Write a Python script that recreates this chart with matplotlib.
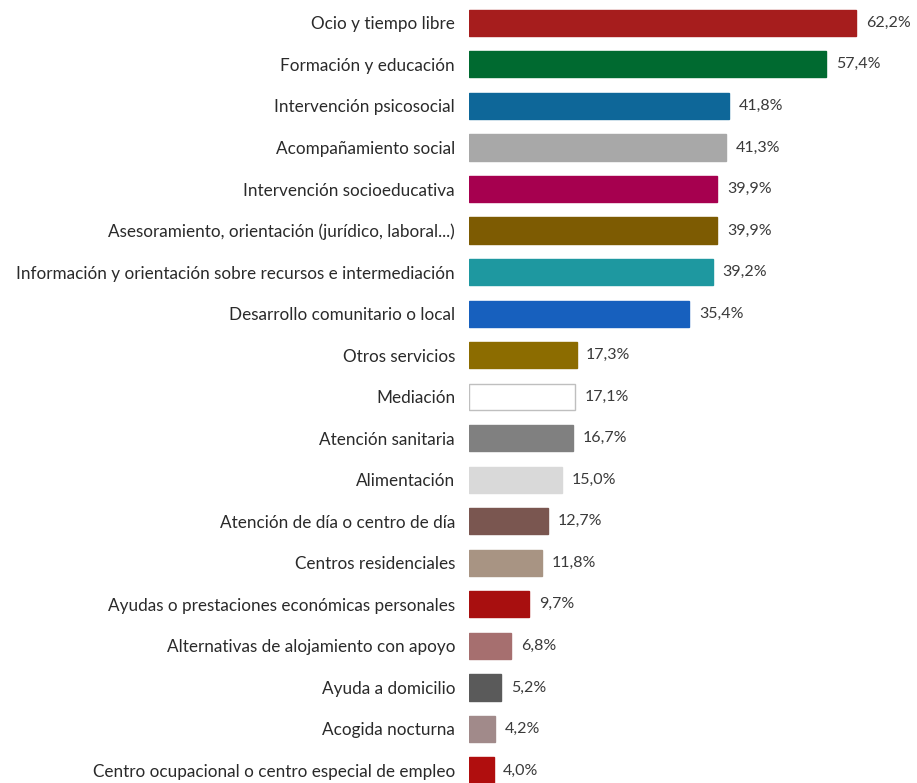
import matplotlib.pyplot as plt

categorias = [
    "Ocio y tiempo libre",
    "Formación y educación",
    "Intervención psicosocial",
    "Acompañamiento social",
    "Intervención socioeducativa",
    "Asesoramiento, orientación (jurídico, laboral...)",
    "Información y orientación sobre recursos e intermediación",
    "Desarrollo comunitario o local",
    "Otros servicios",
    "Mediación",
    "Atención sanitaria",
    "Alimentación",
    "Atención de día o centro de día",
    "Centros residenciales",
    "Ayudas o prestaciones económicas personales",
    "Alternativas de alojamiento con apoyo",
    "Ayuda a domicilio",
    "Acogida nocturna",
    "Centro ocupacional o centro especial de empleo",
]
valores = [62.2, 57.4, 41.8, 41.3, 39.9, 39.9, 39.2, 35.4, 17.3, 17.1,
           16.7, 15.0, 12.7, 11.8, 9.7, 6.8, 5.2, 4.2, 4.0]
colores = ["#A61D1D", "#006A30", "#0E6799", "#A8A8A8", "#A6004F", "#7D5B02",
           "#1E98A0", "#1760BE", "#8C6C00", "#FFFFFF", "#808080", "#D9D9D9",
           "#7A5650", "#A89483", "#A80F0F", "#A66F6F", "#5A5A5A", "#A18A8A",
           "#B00E0E"]
bordes = ["#BFBFBF" if c == "#FFFFFF" else c for c in colores]

plt.rcParams['font.family'] = ['Lato', 'DejaVu Sans']

fig = plt.figure(figsize=(9.17, 7.83), dpi=100)
ax = fig.add_axes([469 / 917, 0.0, 1 - 469 / 917 - 0.005, 1.0])

y = list(range(len(categorias)))
ax.barh(y, valores, height=0.63, color=colores, edgecolor=bordes, linewidth=1)

for yi, v in zip(y, valores):
    ax.text(v + 1.5, yi, f"{v:.1f}%".replace(".", ","), va="center", ha="left",
            fontsize=11.5, color="#3a3a3a")

ax.set_yticks(y)
ax.set_yticklabels(categorias, fontsize=12.3, color="#2a2a2a")
ax.tick_params(axis="y", length=0, pad=10)
ax.set_ylim(18.3, -0.55)
ax.set_xlim(0, 71.2)
ax.set_xticks([])
for s in ax.spines.values():
    s.set_visible(False)

fig.savefig("out.png", dpi=100)
